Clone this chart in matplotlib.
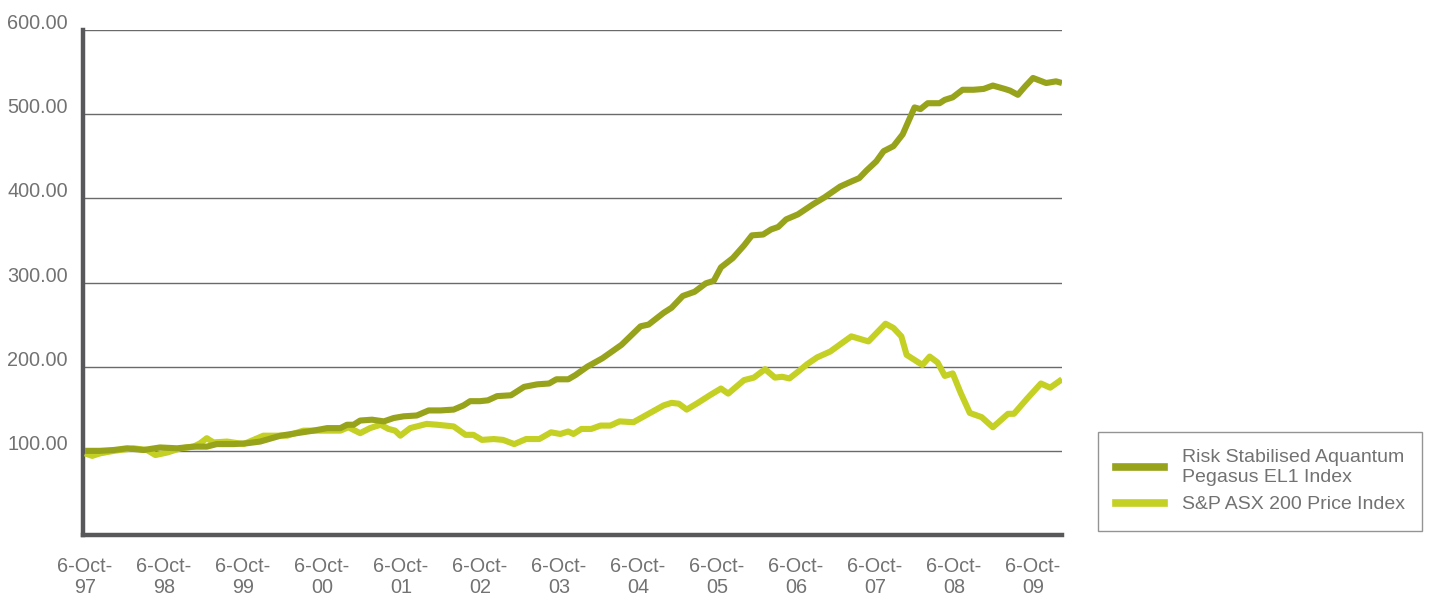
import matplotlib
matplotlib.use("Agg")
import matplotlib.pyplot as plt
from matplotlib.transforms import ScaledTranslation

# months since 6-Oct-97
risk_months = [0, 2.3, 4.4, 6.4, 8.9, 11.4, 14, 16.5, 18.5, 20, 22.6, 24.6, 26.6, 29.7, 32.2, 34.7,
               36.8, 38.8, 39.8, 40.8, 41.8, 43.6, 45.4, 46.9, 48.4, 50.4, 52.2, 54, 56, 57.5, 58.5, 60,
               61.2, 62.6, 64.7, 66.7, 68.7, 70.5, 71.6, 73.4, 74.5, 76.3, 78.6, 81.5, 84.4, 85.6, 87.9,
               89.1, 90.8, 92.6, 94.3, 95.5, 96.6, 98.4, 100.1, 101.3, 103, 104.2, 105.3, 106.5, 108.3,
               110.6, 112.3, 114.7, 116.4, 117.6, 118.7, 120.2, 121.3, 122.8, 124.2, 125.1, 126, 126.9,
               128, 129.8, 130.6, 131.8, 133.3, 135, 136.5, 137.9, 139.7, 140.5, 141.7, 142.8, 144, 146,
               147.5, 148.4]
risk_values = [100, 100, 101, 103, 101, 104, 103, 105, 105, 108, 108, 109, 111, 118, 121, 124,
               127, 127, 131, 131, 136, 137, 135, 139, 141, 142, 148, 148, 149, 154, 159, 159,
               160, 165, 166, 176, 179, 180, 185, 185, 190, 200, 210, 226, 248, 250, 264,
               270, 284, 289, 299, 302, 318, 329, 344, 356, 357, 363, 366, 375, 381,
               393, 401, 414, 420, 424, 433, 444, 456, 462, 476, 492, 508, 506,
               513, 513, 517, 520, 529, 529, 530, 534, 530, 528, 523, 533, 543, 537,
               539, 537]

asx_months = [0, 1.1, 2.3, 4.4, 7.4, 9.4, 10.7, 12.5, 14.5, 16.5, 17.5, 18.5, 19.5, 21.6, 24.1, 25.6,
              27.1, 30.7, 33.2, 35.7, 38.8, 40, 41.8, 43.3, 44.9, 46.1, 47.1, 47.9, 49.4, 51.9, 53.5,
              56, 57.8, 59, 60.3, 62.1, 63.5, 65.2, 67, 69, 70.8, 72.2, 73.4, 74.2, 75.4, 76.9, 78.3,
              79.8, 81.2, 83.3, 85.6, 87.9, 89.1, 90.2, 91.4, 93.1, 94.9, 96.6, 97.7, 100.1, 101.6,
              103.3, 104.8, 105.9, 107, 108.3, 109.7, 111.2, 113.2, 116.4, 119, 121.6, 122.8, 124,
              124.8, 127.2, 128.3, 129.5, 130.6, 131.8, 133, 134.4, 136.2, 137.9, 140.2, 141.1, 143.1,
              145.2, 146.6, 148.4]
asx_values = [97, 94, 97, 100, 103, 101, 95, 98, 103, 105, 109, 115, 110, 111, 108, 113,
              118, 118, 124, 124, 124, 128, 121, 127, 131, 126, 124, 118, 127, 132, 131,
              129, 119, 119, 113, 114, 113, 108, 114, 114, 122, 120, 123, 120, 126, 126, 130,
              130, 135, 134, 144, 154, 157, 156, 149, 157, 166, 174, 168, 184, 187,
              197, 187, 188, 186, 194, 203, 211, 218, 236, 230, 251, 246, 236,
              214, 202, 212, 205, 189, 192, 169, 145, 140, 128, 144, 144, 162,
              180, 175, 185]

tick_months = [0, 12, 24, 36, 48, 60, 72, 84, 96, 108, 120, 132, 144]
tick_labels = ["6-Oct-\n97", "6-Oct-\n98", "6-Oct-\n99", "6-Oct-\n00", "6-Oct-\n01", "6-Oct-\n02",
               "6-Oct-\n03", "6-Oct-\n04", "6-Oct-\n05", "6-Oct-\n06", "6-Oct-\n07", "6-Oct-\n08",
               "6-Oct-\n09"]
y_ticks = [100, 200, 300, 400, 500, 600]
y_labels = ["100.00", "200.00", "300.00", "400.00", "500.00", "600.00"]
series_names = ["Risk Stabilised Aquantum\nPegasus EL1 Index", "S&P ASX 200 Price Index"]

plt.rcParams['font.family'] = ['Liberation Sans', 'DejaVu Sans']
TEXT = '#727272'
DARK = '#97a31b'
LIGHT = '#c4d023'

fig = plt.figure(figsize=(14.33, 5.94), dpi=100)
ax = fig.add_axes([83/1433, 1-535/594, (1062-83)/1433, (535-30)/594])

ax.plot(asx_months, asx_values, color=LIGHT, lw=4.4, solid_joinstyle='round', solid_capstyle='butt', zorder=3)
ax.plot(risk_months, risk_values, color=DARK, lw=4.4, solid_joinstyle='round', solid_capstyle='butt', zorder=4)

ax.set_xlim(-0.3, 148.4)
ax.set_ylim(0, 600)

for v in y_ticks:
    ax.axhline(v, color='#6a6a6a', lw=1.0, zorder=1)

ax.set_yticks(y_ticks)
ax.set_yticklabels(y_labels)
ax.set_xticks(tick_months)
ax.set_xticklabels(tick_labels, linespacing=1.1)
ax.tick_params(axis='both', length=0, labelsize=14.3, colors=TEXT)
ax.tick_params(axis='y', pad=11)
ax.tick_params(axis='x', pad=16)
for lbl in ax.get_yticklabels():
    lbl.set_transform(lbl.get_transform() + ScaledTranslation(0, 6/72, fig.dpi_scale_trans))

for s in ['top', 'right']:
    ax.spines[s].set_visible(False)
for s in ['left', 'bottom']:
    ax.spines[s].set_color('#58585a')
    ax.spines[s].set_linewidth(3.2)

h1, = ax.plot([], [], color=DARK, lw=5.5)
h2, = ax.plot([], [], color=LIGHT, lw=5.5)
leg = fig.legend([h1, h2], series_names, loc='upper left',
                 bbox_to_anchor=(1098/1433, 1-432/594), fancybox=False, frameon=True,
                 fontsize=14, handlelength=2.5, handletextpad=0.9, borderpad=0.9,
                 labelspacing=0.5, borderaxespad=0)
leg.get_frame().set_edgecolor('#7a7a7a')
leg.get_frame().set_linewidth(1.0)
for t in leg.get_texts():
    t.set_color(TEXT)
    t.set_linespacing(1.2)

fig.savefig('out.png', dpi=100)
